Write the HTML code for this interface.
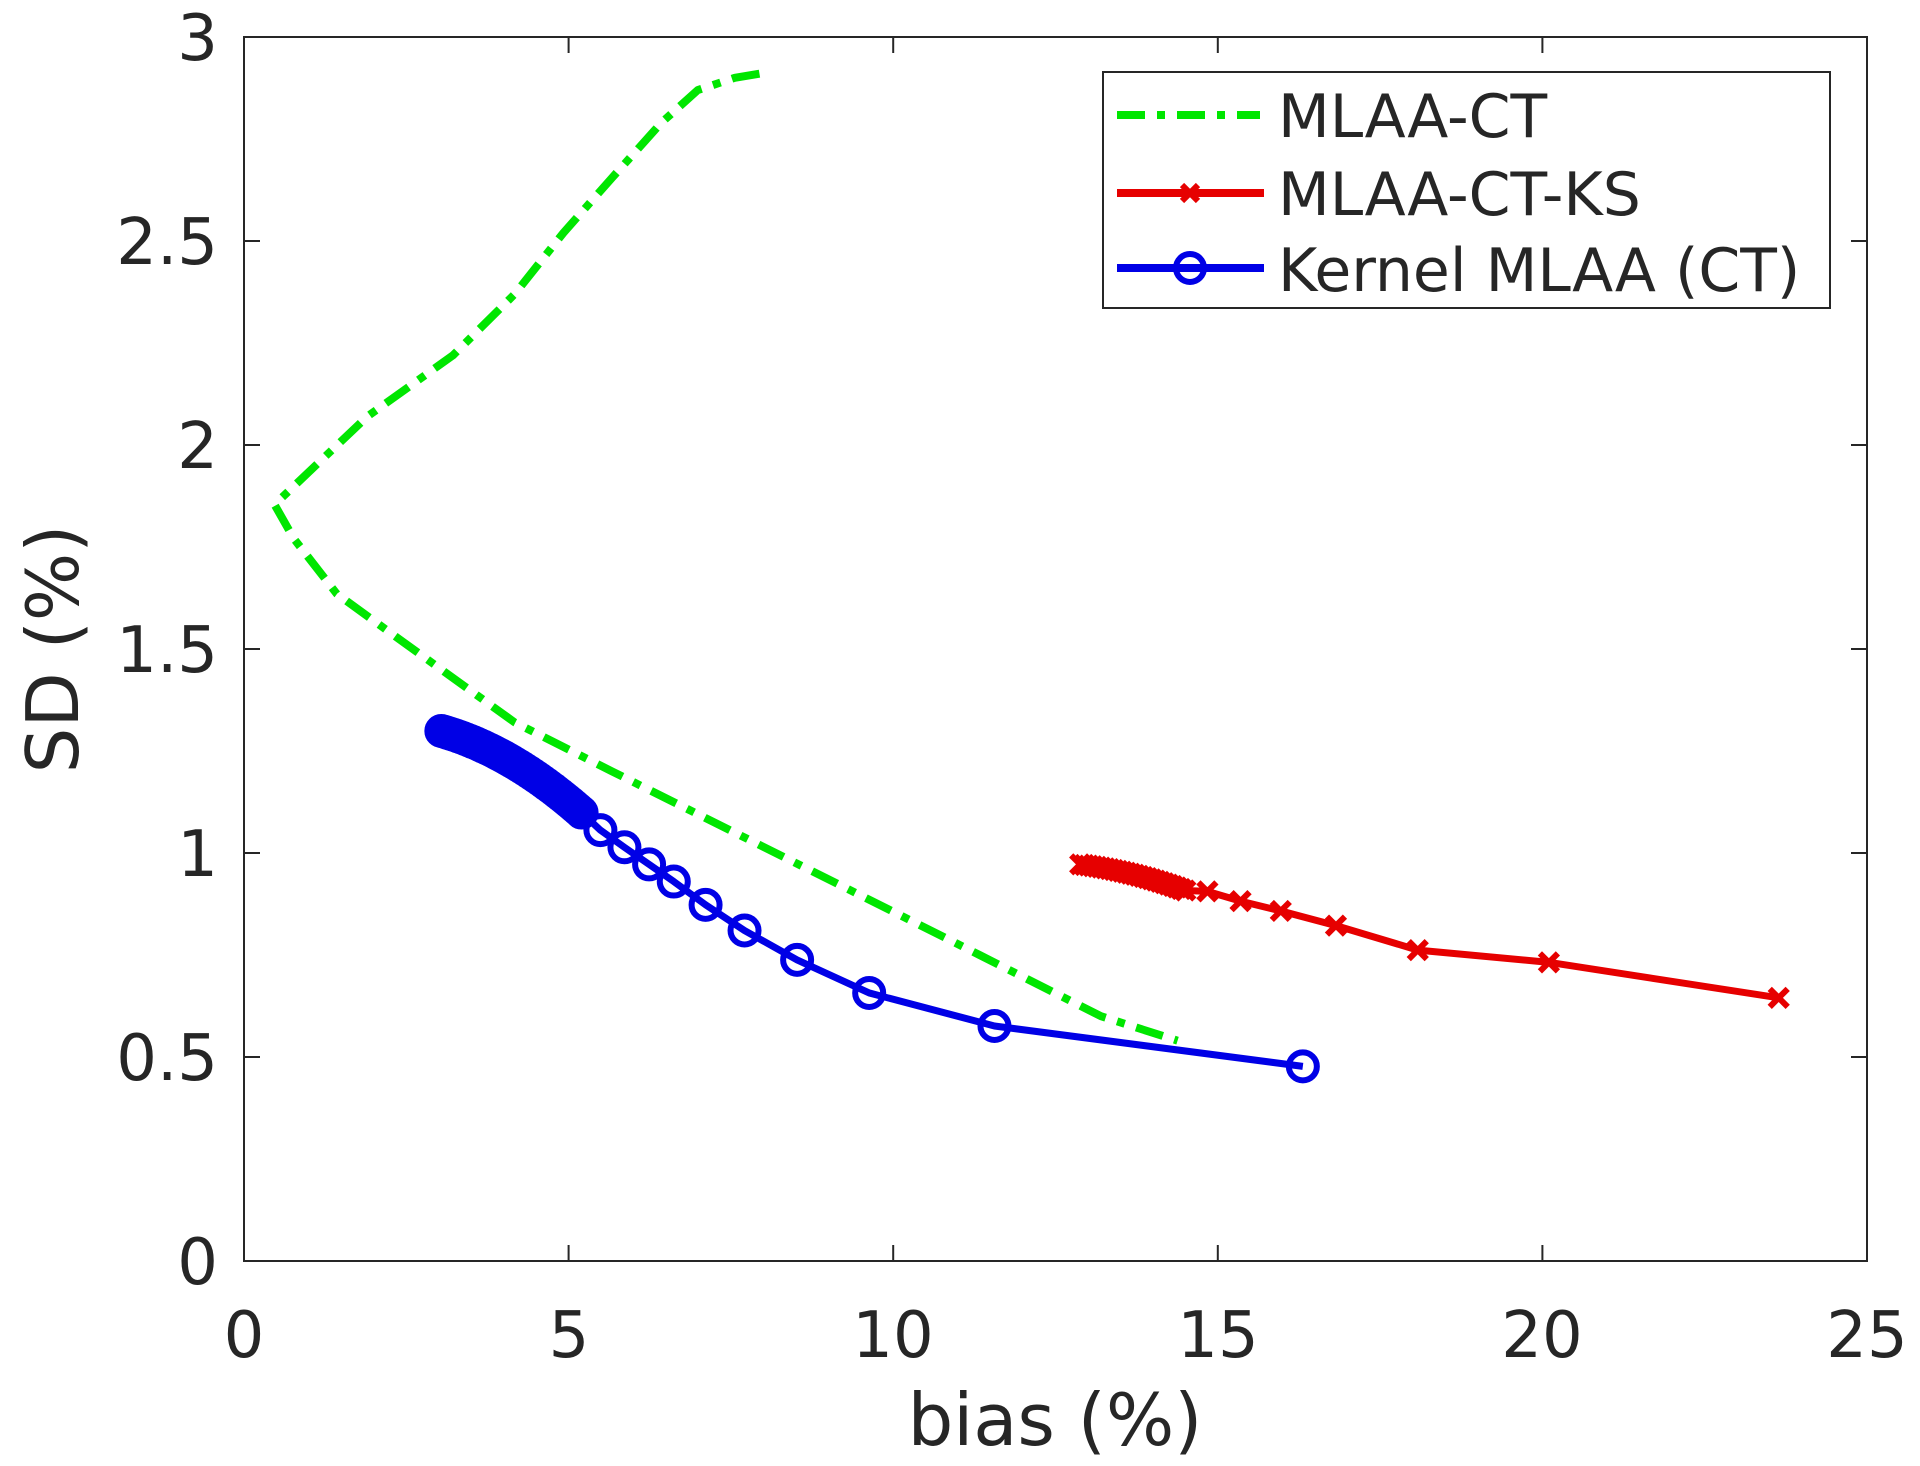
<!DOCTYPE html>
<html><head><meta charset="utf-8"><style>
html,body{margin:0;padding:0;background:#fff;}
svg{display:block;}
text{font-family:"DejaVu Sans","Liberation Sans",sans-serif;fill:#262626;}
</style></head><body>
<svg id="s" width="1920" height="1466" viewBox="0 0 1920 1466" xmlns="http://www.w3.org/2000/svg">
<rect x="0" y="0" width="1920" height="1466" fill="#fff"/>
<g id="ticks" stroke="#262626" stroke-width="2"></g>
<rect x="244" y="37" width="1623" height="1224" fill="none" stroke="#262626" stroke-width="2"/>
<g font-size="64" text-anchor="end">
<text x="218" y="1284">0</text>
<text x="218" y="1080">0.5</text>
<text x="218" y="876">1</text>
<text x="218" y="672">1.5</text>
<text x="218" y="468">2</text>
<text x="218" y="264">2.5</text>
<text x="218" y="60">3</text>
</g>
<g font-size="64" text-anchor="middle">
<text x="244" y="1357">0</text>
<text x="569" y="1357">5</text>
<text x="893" y="1357">10</text>
<text x="1218" y="1357">15</text>
<text x="1542" y="1357">20</text>
<text x="1867" y="1357">25</text>
<text x="1055" y="1445" font-size="72">bias (%)</text>
<text transform="translate(78,649) rotate(-90)" font-size="72">SD (%)</text>
</g>
<g id="data"></g>
<rect x="1103" y="72" width="727" height="236" fill="#fff" stroke="#262626" stroke-width="2"/>
<line x1="1117" y1="115" x2="1260" y2="115" stroke="#00e600" stroke-width="8" stroke-dasharray="28,12,8,12"/>
<line x1="1117" y1="193" x2="1264" y2="193" stroke="#e60000" stroke-width="8"/>
<g stroke="#e60000" stroke-width="6"><line x1="1182" y1="185" x2="1198" y2="201"/><line x1="1182" y1="201" x2="1198" y2="185"/></g>
<line x1="1117" y1="268" x2="1264" y2="268" stroke="#0000e6" stroke-width="8"/>
<circle cx="1190" cy="268" r="14" fill="none" stroke="#0000e6" stroke-width="6"/>
<g font-size="60" fill="#000">
<text x="1278" y="137">MLAA-CT</text>
<text x="1278" y="215">MLAA-CT-KS</text>
<text x="1278" y="291">Kernel MLAA (CT)</text>
</g>
</svg>
<script>
const NS="http://www.w3.org/2000/svg";
const X=v=>244+v*64.92, Y=v=>1261-v*408;
const tk=document.getElementById('ticks');
function ln(p,x1,y1,x2,y2){const l=document.createElementNS(NS,'line');l.setAttribute('x1',x1);l.setAttribute('y1',y1);l.setAttribute('x2',x2);l.setAttribute('y2',y2);p.appendChild(l);return l;}
for(let i=0;i<=6;i++){const y=Y(i*0.5);ln(tk,244,y,260,y);ln(tk,1867,y,1851,y);}
for(let i=0;i<=5;i++){const x=X(i*5);ln(tk,x,1261,x,1245);ln(tk,x,37,x,53);}
const d=document.getElementById('data');
function poly(pts,col,w,dash){const p=document.createElementNS(NS,'polyline');p.setAttribute('points',pts.map(q=>X(q[0])+','+Y(q[1])).join(' '));p.setAttribute('fill','none');p.setAttribute('stroke',col);p.setAttribute('stroke-width',w);p.setAttribute('stroke-linejoin','round');if(dash)p.setAttribute('stroke-dasharray',dash);d.appendChild(p);}
const green=[[7.94,2.91],[7.56,2.9],[6.99,2.87],[6.43,2.79],[5.67,2.655],[4.92,2.52],[4.17,2.37],[3.22,2.22],[1.9,2.07],[0.47,1.854],[0.77,1.77],[1.43,1.635],[2.47,1.515],[4.17,1.32],[5.67,1.2],[7.56,1.05],[9.45,0.9],[11.33,0.75],[13.2,0.6],[14.38,0.54]];
poly(green,'#00e600',8,'28,12,8,12');
const bsparse=[[5.49,1.056],[5.86,1.014],[6.24,0.972],[6.62,0.93],[7.11,0.873],[7.71,0.81],[8.52,0.738],[9.63,0.657],[11.56,0.576],[16.31,0.477]];
const blue=[];
for(let i=0;i<=40;i++){const t=i/40;const x=3.04+t*(5.2-3.04);blue.push([x,1.299-(x-3.04)*0.045-(x-3.04)*(x-3.04)*0.022]);}
blue.push(...bsparse);
poly(blue,'#0000e6',7);
blue.forEach(q=>{const c=document.createElementNS(NS,'circle');c.setAttribute('cx',X(q[0]));c.setAttribute('cy',Y(q[1]));c.setAttribute('r',14);c.setAttribute('fill','none');c.setAttribute('stroke','#0000e6');c.setAttribute('stroke-width',6);d.appendChild(c);});
const red=[];
for(let i=0;i<=25;i++){const t=i/25;const x=12.88+t*(14.5-12.88);red.push([x,0.972-(x-12.88)*0.02-(x-12.88)*(x-12.88)*0.012]);}
red.push([14.84,0.906],[15.35,0.882],[15.97,0.858],[16.82,0.822],[18.08,0.762],[20.1,0.732],[23.64,0.645]);
poly(red,'#e60000',7);
const rg=document.createElementNS(NS,'g');rg.setAttribute('stroke','#e60000');rg.setAttribute('stroke-width',6);d.appendChild(rg);
red.forEach(q=>{const x=X(q[0]),y=Y(q[1]);ln(rg,x-9,y-9,x+9,y+9);ln(rg,x-9,y+9,x+9,y-9);});
</script>
</body></html>
